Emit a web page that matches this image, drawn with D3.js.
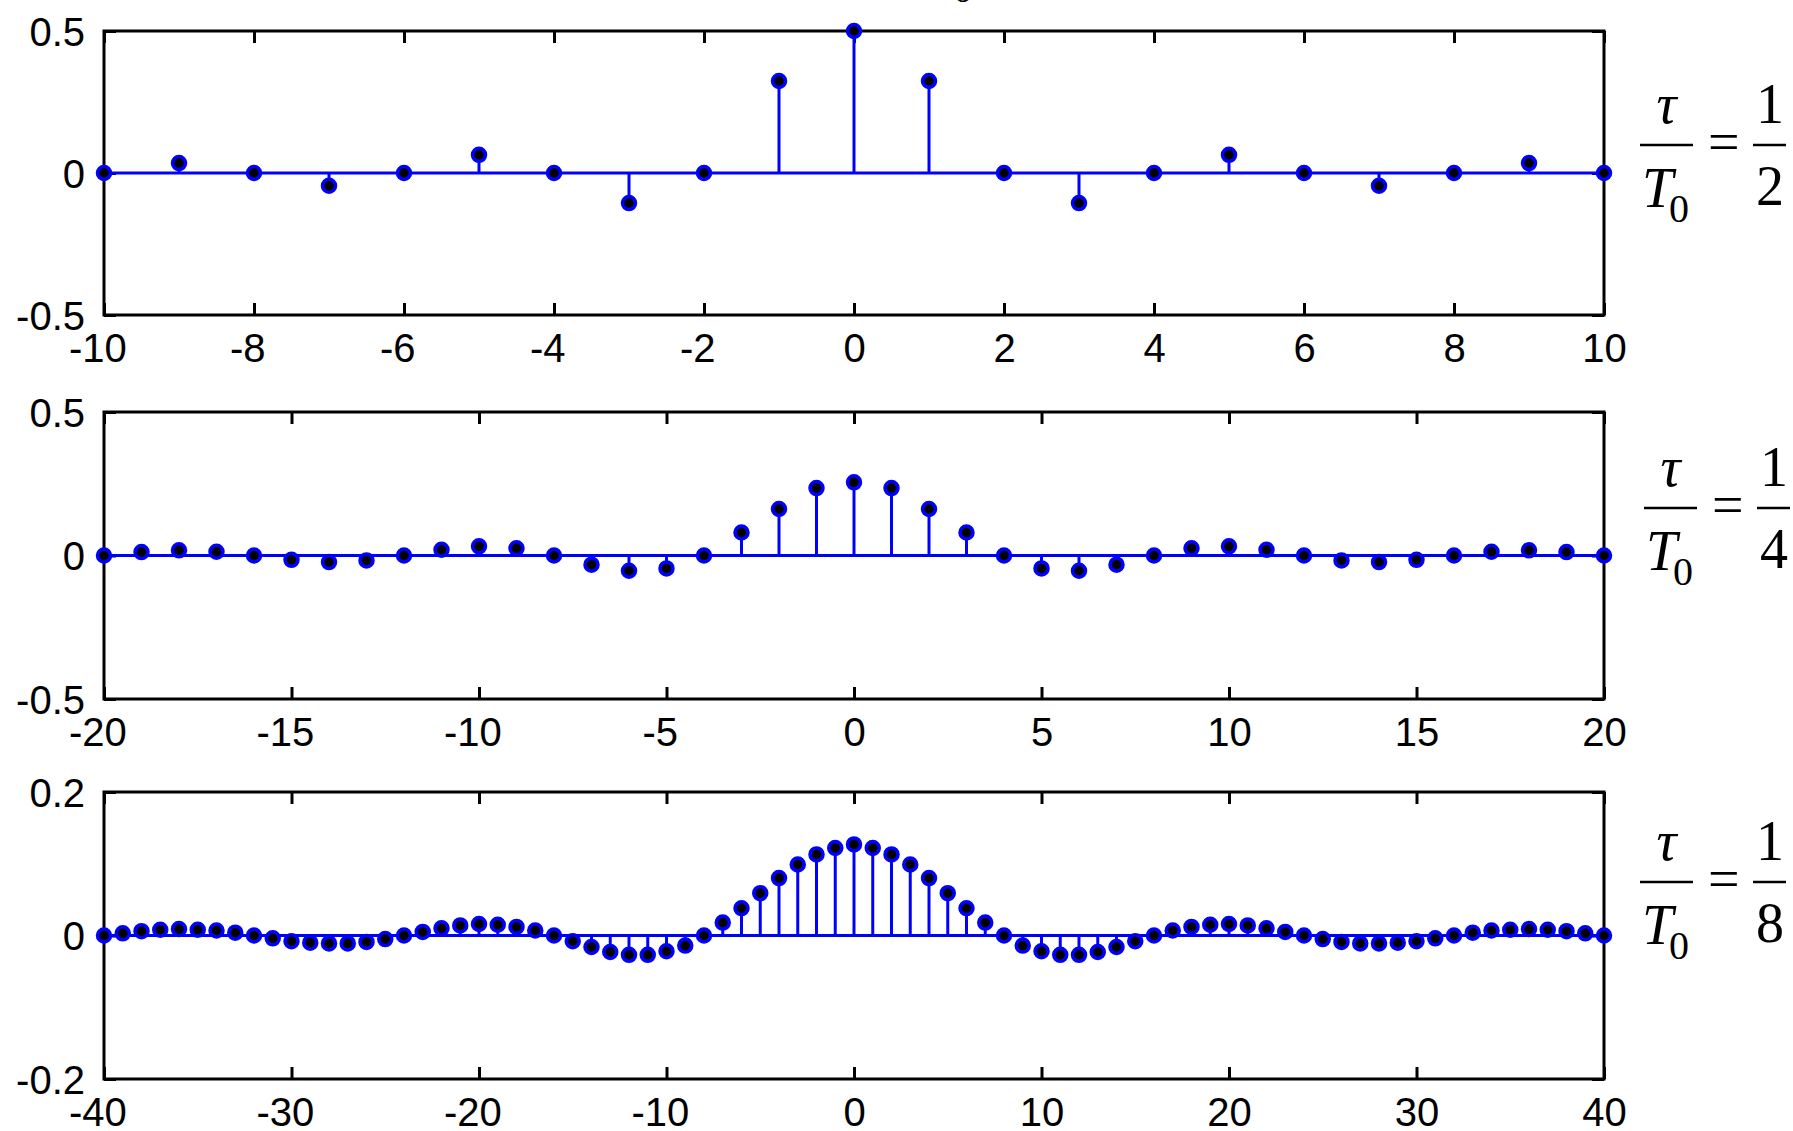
<!DOCTYPE html>
<html>
<head>
<meta charset="utf-8">
<script src="https://cdn.jsdelivr.net/npm/d3@7"></script>
<style>
body {margin:0; background:#fff;}
svg {display:block; background:#fff;}
</style>
</head>
<body>
<script>
// tau/T0 = 1/2
var k_a = [-10,-9,-8,-7,-6,-5,-4,-3,-2,-1,0,1,2,3,4,5,6,7,8,9,10];
var c_a = [0,0.035,0,-0.045,0,0.064,0,-0.106,0,0.324,0.5,0.324,0,-0.106,0,0.064,0,-0.045,0,0.035,0];

// tau/T0 = 1/4
var k_b = [-20,-19,-18,-17,-16,-15,-14,-13,-12,-11,-10,-9,-8,-7,-6,-5,-4,-3,-2,-1,0,
           1,2,3,4,5,6,7,8,9,10,11,12,13,14,15,16,17,18,19,20];
var c_b = [0,0.012,0.018,0.013,0,-0.015,-0.023,-0.017,0,0.020,0.032,0.025,0,-0.032,-0.053,-0.045,0,0.080,0.162,0.235,0.255,
           0.235,0.162,0.080,0,-0.045,-0.053,-0.032,0,0.025,0.032,0.020,0,-0.017,-0.023,-0.015,0,0.013,0.018,0.012,0];

// tau/T0 = 1/8
var k_c = [-40,-39,-38,-37,-36,-35,-34,-33,-32,-31,-30,-29,-28,-27,-26,-25,-24,-23,-22,-21,
           -20,-19,-18,-17,-16,-15,-14,-13,-12,-11,-10,-9,-8,-7,-6,-5,-4,-3,-2,-1,0,
           1,2,3,4,5,6,7,8,9,10,11,12,13,14,15,16,17,18,19,20,
           21,22,23,24,25,26,27,28,29,30,31,32,33,34,35,36,37,38,39,40];
var c_c = [0,0.003,0.006,0.008,0.009,0.008,0.007,0.004,0,-0.004,-0.008,-0.010,-0.011,-0.011,-0.009,-0.005,0,0.005,0.010,0.014,
           0.016,0.015,0.012,0.007,0,-0.008,-0.016,-0.023,-0.027,-0.027,-0.022,-0.014,0,0.018,0.038,0.059,0.080,0.099,0.113,0.122,0.127,
           0.122,0.113,0.099,0.080,0.059,0.038,0.018,0,-0.014,-0.022,-0.027,-0.027,-0.023,-0.016,-0.008,0,0.007,0.012,0.015,0.016,
           0.014,0.010,0.005,0,-0.005,-0.009,-0.011,-0.011,-0.010,-0.008,-0.004,0,0.004,0.007,0.008,0.009,0.008,0.006,0.003,0];

// tick labels
var xt_a = [-10,-8,-6,-4,-2,0,2,4,6,8,10];
var xt_b = [-20,-15,-10,-5,0,5,10,15,20];
var xt_c = [-40,-30,-20,-10,0,10,20,30,40];
var yt_a = [-0.5,0,0.5];
var yt_b = [-0.5,0,0.5];
var yt_c = [-0.2,0,0.2];

// ratio labels at the right
var ratio_den = ["2","4","8"];

var window_w = 1793;
var window_h = 1131;
var blue = "#0000ff";

var svg = d3.select("body").append("svg")
    .attr("width", window_w)
    .attr("height", window_h);

function render_stem(k, c, xticks, yticks, box) {
    var xScale = d3.scaleLinear().domain(d3.extent(xticks)).range([box.left, box.right]);
    var yScale = d3.scaleLinear().domain(d3.extent(yticks)).range([box.bottom, box.top]);
    var fmt = function(d) { return String(d); };

    var g = svg.append("g");

    var ax_b = g.append("g").attr("transform", "translate(0," + box.bottom + ")")
        .call(d3.axisBottom(xScale).tickValues(xticks).tickFormat(fmt).tickSize(-12).tickSizeOuter(0).tickPadding(18.6));
    var ax_t = g.append("g").attr("transform", "translate(0," + box.top + ")")
        .call(d3.axisTop(xScale).tickValues(xticks).tickFormat("").tickSize(-12).tickSizeOuter(0));
    var ax_l = g.append("g").attr("transform", "translate(" + box.left + ",0)")
        .call(d3.axisLeft(yScale).tickValues(yticks).tickFormat(fmt).tickSize(-12).tickSizeOuter(0).tickPadding(19));
    var ax_r = g.append("g").attr("transform", "translate(" + box.right + ",0)")
        .call(d3.axisRight(yScale).tickValues(yticks).tickFormat("").tickSize(-12).tickSizeOuter(0));

    [ax_b, ax_t, ax_l, ax_r].forEach(function(a) {
        a.select(".domain").remove();
        a.selectAll("line").attr("stroke", "#000").attr("stroke-width", 3);
        a.selectAll("text")
            .attr("fill", "#000")
            .style("font-family", "'Liberation Sans', Arial, sans-serif")
            .style("font-size", "40px");
    });
    // minus sign hangs left of the digits
    ax_b.selectAll("text").attr("dx", d => d < 0 ? -6.7 : 0);
    ax_l.selectAll("text").attr("dy", "0.36em");

    g.append("rect")
        .attr("x", box.left).attr("y", box.top)
        .attr("width", box.right - box.left).attr("height", box.bottom - box.top)
        .attr("fill", "none").attr("stroke", "#000").attr("stroke-width", 3);

    var data = k.map(function(d, i) { return {k: d, c: c[i]}; });

    // baseline
    g.append("line")
        .attr("x1", xScale(k[0])).attr("x2", xScale(k[k.length - 1]))
        .attr("y1", yScale(0)).attr("y2", yScale(0))
        .attr("stroke", blue).attr("stroke-width", 3);

    g.selectAll(".stem").data(data).enter()
        .append("line")
        .attr("class", "stem")
        .attr("x1", d => xScale(d.k)).attr("x2", d => xScale(d.k))
        .attr("y1", yScale(0)).attr("y2", d => yScale(d.c))
        .attr("stroke", blue).attr("stroke-width", 3);

    g.selectAll(".mark").data(data).enter()
        .append("circle")
        .attr("class", "mark")
        .attr("cx", d => xScale(d.k))
        .attr("cy", d => yScale(d.c))
        .attr("r", 6.5)
        .attr("fill", "#000")
        .attr("stroke", blue)
        .attr("stroke-width", 3.5);
}

function render_ratio(x0, ly, den) {
    var g = svg.append("g").style("font-family", "'Liberation Serif', 'Times New Roman', serif");
    g.append("text").attr("x", x0 + 26.5).attr("y", ly - 22)
        .attr("text-anchor", "middle").style("font-style", "italic").style("font-size", "56px")
        .text("τ");
    g.append("line").attr("x1", x0).attr("x2", x0 + 53).attr("y1", ly).attr("y2", ly)
        .attr("stroke", "#000").attr("stroke-width", 2.6);
    g.append("text").attr("x", x0 + 2).attr("y", ly + 62)
        .style("font-style", "italic").style("font-size", "56px")
        .text("T");
    g.append("text").attr("x", x0 + 29).attr("y", ly + 77)
        .style("font-size", "40px")
        .text("0");
    g.append("text").attr("x", x0 + 68).attr("y", ly + 16)
        .style("font-size", "56px")
        .text("=");
    g.append("text").attr("x", x0 + 130).attr("y", ly - 22)
        .attr("text-anchor", "middle").style("font-size", "56px")
        .text("1");
    g.append("line").attr("x1", x0 + 113).attr("x2", x0 + 146).attr("y1", ly).attr("y2", ly)
        .attr("stroke", "#000").attr("stroke-width", 2.6);
    g.append("text").attr("x", x0 + 130).attr("y", ly + 60)
        .attr("text-anchor", "middle").style("font-size", "56px")
        .text(den);
}

render_stem(k_a, c_a, xt_a, yt_a, {left:104, right:1604, top:31, bottom:315});
render_stem(k_b, c_b, xt_b, yt_b, {left:104, right:1604, top:412, bottom:699});
render_stem(k_c, c_c, xt_c, yt_c, {left:104, right:1604, top:792, bottom:1079});

render_ratio(1640, 145, ratio_den[0]);
render_ratio(1644, 508, ratio_den[1]);
render_ratio(1640, 882, ratio_den[2]);

// bottom of a title that is cut off at the top edge
svg.append("text").attr("x", 963).attr("y", 2)
    .attr("text-anchor", "middle")
    .style("font-family", "'Liberation Serif', serif").style("font-size", "40px")
    .text("0");
</script>
</body>
</html>
